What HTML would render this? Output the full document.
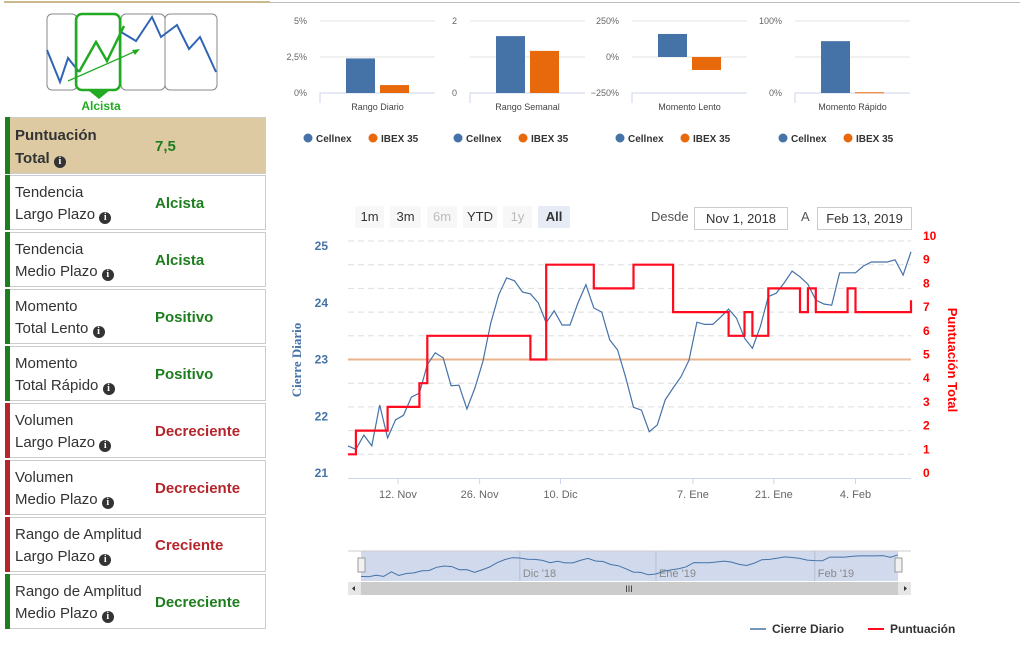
<!DOCTYPE html>
<html><head><meta charset="utf-8">
<style>
body{margin:0;width:1029px;height:652px;background:#fff;font-family:"Liberation Sans",sans-serif;position:relative;overflow:hidden}
.row{position:absolute;left:5px;width:261px;height:55px;border:1px solid #ccc;border-left:none;box-sizing:border-box;background:#fff}
.row .bar{position:absolute;left:0;top:-1px;bottom:-1px;width:5px}
.row .lbl{position:absolute;left:10px;top:6px;font-size:15px;line-height:22px;color:#333}
.row .val{position:absolute;left:150px;top:0;line-height:55px;font-size:15px;font-weight:bold}
.info{display:inline-block;width:12px;height:12px;border-radius:50%;background:#333;color:#fff;font-size:10px;line-height:12px;text-align:center;font-weight:bold;font-family:"Liberation Serif",serif;vertical-align:-1px}
.btn{position:absolute;top:206px;height:22px;line-height:22px;text-align:center;font-size:13px;background:#f7f7f7;color:#333;border-radius:2px}
.inp{position:absolute;top:207px;height:21px;line-height:21px;border:1px solid #ccc;font-size:13px;text-align:center;color:#333}
</style></head><body>
<div style="position:absolute;left:12px;top:2px;width:1008px;height:1px;background:#bbb"></div>
<div style="position:absolute;left:4px;top:1px;width:266px;height:2px;background:#cbb88f"></div>

<svg style="position:absolute;left:0;top:0" width="280" height="115">
<rect x="47" y="14" width="30" height="76" rx="5" fill="none" stroke="#888" stroke-width="1"/>
<rect x="121" y="14" width="44" height="76" rx="5" fill="none" stroke="#888"/>
<rect x="165" y="14" width="52" height="76" rx="5" fill="none" stroke="#888"/>
<polyline points="47,50 60,82 68,58 79,72" fill="none" stroke="#2f65b3" stroke-width="2"/>
<polyline points="121,32 136,41 152,17 161,37 177,25 189,49 200,37 216,72" fill="none" stroke="#2f65b3" stroke-width="2"/>
<rect x="76" y="14" width="44" height="76" rx="6" fill="none" stroke="#22aa22" stroke-width="2.5"/>
<polyline points="79,72 96,42 107,61 124,26" fill="none" stroke="#22aa22" stroke-width="2.5"/>
<line x1="68" y1="81" x2="136" y2="51" stroke="#22aa22" stroke-width="1.3"/>
<polygon points="140,49 132,50 135,55" fill="#22aa22"/>
<polygon points="88,90 110,90 99,99" fill="#22aa22"/>
<text x="101" y="110" text-anchor="middle" font-size="12" font-weight="bold" fill="#22aa22" font-family="Liberation Sans">Alcista</text>
</svg>

<div class="row" style="top:117px;height:57px;background:#ddcaa3"><div class="bar" style="background:#1e7e1e"></div><div class="lbl" style="font-weight:bold;top:6px;line-height:23px">Puntuación<br>Total <span class="info">i</span></div><div class="val" style="color:#1e7e1e;line-height:57px">7,5</div></div>
<div class="row" style="top:175px"><div class="bar" style="background:#1e7e1e"></div><div class="lbl">Tendencia<br>Largo Plazo <span class="info">i</span></div><div class="val" style="color:#1e7e1e">Alcista</div></div>
<div class="row" style="top:232px"><div class="bar" style="background:#1e7e1e"></div><div class="lbl">Tendencia<br>Medio Plazo <span class="info">i</span></div><div class="val" style="color:#1e7e1e">Alcista</div></div>
<div class="row" style="top:289px"><div class="bar" style="background:#1e7e1e"></div><div class="lbl">Momento<br>Total Lento <span class="info">i</span></div><div class="val" style="color:#1e7e1e">Positivo</div></div>
<div class="row" style="top:346px"><div class="bar" style="background:#1e7e1e"></div><div class="lbl">Momento<br>Total Rápido <span class="info">i</span></div><div class="val" style="color:#1e7e1e">Positivo</div></div>
<div class="row" style="top:403px"><div class="bar" style="background:#b5252c"></div><div class="lbl">Volumen<br>Largo Plazo <span class="info">i</span></div><div class="val" style="color:#b5252c">Decreciente</div></div>
<div class="row" style="top:460px"><div class="bar" style="background:#b5252c"></div><div class="lbl">Volumen<br>Medio Plazo <span class="info">i</span></div><div class="val" style="color:#b5252c">Decreciente</div></div>
<div class="row" style="top:517px"><div class="bar" style="background:#b5252c"></div><div class="lbl">Rango de Amplitud<br>Largo Plazo <span class="info">i</span></div><div class="val" style="color:#b5252c">Creciente</div></div>
<div class="row" style="top:574px"><div class="bar" style="background:#1e7e1e"></div><div class="lbl">Rango de Amplitud<br>Medio Plazo <span class="info">i</span></div><div class="val" style="color:#1e7e1e">Decreciente</div></div>

<div class="btn" style="left:355px;width:29px">1m</div>
<div class="btn" style="left:390px;width:31px">3m</div>
<div class="btn" style="left:427px;width:30px;color:#bbb">6m</div>
<div class="btn" style="left:463px;width:34px">YTD</div>
<div class="btn" style="left:503px;width:29px;color:#bbb">1y</div>
<div class="btn" style="left:538px;width:32px;background:#e6ebf5;font-weight:bold">All</div>
<div style="position:absolute;left:651px;top:209px;font-size:13px;color:#555">Desde</div>
<div class="inp" style="left:694px;width:92px">Nov 1, 2018</div>
<div style="position:absolute;left:801px;top:209px;font-size:13px;color:#555">A</div>
<div class="inp" style="left:817px;width:93px">Feb 13, 2019</div>

<svg id="mini" style="position:absolute;left:0;top:0" width="1029" height="150"></svg>
<svg id="main" style="position:absolute;left:0;top:0" width="1029" height="652"></svg>

<script>
const NS="http://www.w3.org/2000/svg";
function mk(svg,tag,attrs,txt){const e=document.createElementNS(NS,tag);for(const k in attrs)e.setAttribute(k,attrs[k]);if(txt!=null)e.textContent=txt;svg.appendChild(e);return e;}

// ---------- mini bar charts ----------
const miniTitles=["Rango Diario","Rango Semanal","Momento Lento","Momento Rápido"];
const miniCellnex=[2.4,1.58,160,72];
const miniIbex=[0.55,1.17,-90,1];
const miniMin=[0,0,-250,0];
const miniMax=[5,2,250,100];
const miniTicks=[["5%","2,5%","0%"],["2","","0"],["250%","0%","−250%"],["100%","","0%"]];
const mini=document.getElementById('mini');
const panelX=[320,470,632,795];
for(let i=0;i<4;i++){
  const x0=panelX[i],w=115,yT=21,yB=93;
  const ys=v=>yB-(v-miniMin[i])/(miniMax[i]-miniMin[i])*(yB-yT);
  [yT,(yT+yB)/2,yB].forEach((y,j)=>{
    if(j<2||miniMin[i]<0){let l=mk(mini,'line',{x1:x0,x2:x0+w,y1:y,y2:y,stroke:'#e3e3e3'});}
    if(miniTicks[i][j]){let t=mk(mini,'text',{x:x0-13,y:y+3,'text-anchor':'end','font-size':9,fill:'#666'},miniTicks[i][j]);}
  });
  let ax=mk(mini,'path',{d:`M${x0} ${yB+10}V${miniMin[i]<0?yB:yB}H${x0+w}`,stroke:'#ccd6eb',fill:'none'});
  
  const z=ys(0);
  const b1=ys(miniCellnex[i]),b2=ys(miniIbex[i]);
  let r1=mk(mini,'rect',{x:x0+26,width:29,y:Math.min(z,b1),height:Math.max(1,Math.abs(z-b1)),fill:'#4572a7'});
  
  let r2=mk(mini,'rect',{x:x0+60,width:29,y:Math.min(z,b2),height:Math.max(1,Math.abs(z-b2)),fill:'#e8690b'});
  
  let ct=mk(mini,'text',{x:x0+w/2,y:110,'text-anchor':'middle','font-size':9,fill:'#444'},miniTitles[i]);
  
  const lx=x0-12;
  let c1=mk(mini,'circle',{cx:lx,cy:138,r:4.5,fill:'#4572a7'});
  let t1=mk(mini,'text',{x:lx+8,y:142,'font-size':10,'font-weight':'bold',fill:'#333'},'Cellnex');
  let c2=mk(mini,'circle',{cx:lx+65,cy:138,r:4.5,fill:'#e8690b'});
  let t2=mk(mini,'text',{x:lx+73,y:142,'font-size':10,'font-weight':'bold',fill:'#333'},'IBEX 35');
}

// ---------- main chart ----------
const closes=[21.46,21.40,21.65,21.46,22.18,21.60,21.92,22.0,22.32,22.39,22.89,23.10,23.01,22.52,22.53,22.11,22.48,22.94,23.62,24.12,24.42,24.37,24.17,24.14,23.98,23.63,23.84,23.59,23.59,23.98,24.30,23.89,23.82,23.33,23.15,22.68,22.14,22.09,21.71,21.83,22.27,22.48,22.68,22.97,23.64,23.6,23.6,23.73,23.87,23.71,23.36,23.18,23.56,24.09,24.15,24.33,24.54,24.44,24.31,24.03,23.96,23.94,24.51,24.51,24.51,24.63,24.70,24.70,24.70,24.74,24.47,24.88];
const scores=[1,2,2,2,2,3,3,3,3,4,6,6,6,6,6,6,6,6,6,6,6,6,6,5,5,9,9,9,9,9,9,8,8,8,8,8,9,9,9,9,9,7,7,7,7,7,7,7,6,6,7,6,6,8,8,8,8,7,8,7,7,7,7,8,7,7,7,7,7,7,7,7.5];
const leftTicks=[21,22,23,24,25];
const rightTicks=[0,1,2,3,4,5,6,7,8,9,10];
const xLabels=["12. Nov","26. Nov","10. Dic","7. Ene","21. Ene","4. Feb"];
const xLabelIdx=[6.3,16.6,26.8,43.5,53.7,64.0];
const navLabels=["Dic '18","Ene '19","Feb '19"];
const navLabelIdx=[21,39,60];
const thresholdScore=5;

const svg=document.getElementById('main');
const X0=348,X1=911;
const xs=i=>X0+(X1-X0)*i/(closes.length-1);
const yL=v=>472-(v-21)*56.75;
const yR=v=>478-v*23.7;

rightTicks.forEach(v=>{
  if(v>0){let g=mk(svg,'line',{x1:X0,x2:X1,y1:yR(v),y2:yR(v),stroke:'#dedede','stroke-dasharray':'6,4'});}
  let t=mk(svg,'text',{x:923,y:yR(v)-1,'font-size':12,'font-weight':'bold',fill:'#ff0000'},String(v));
  
});
leftTicks.forEach(v=>{
  let t=mk(svg,'text',{x:328,y:yL(v)+5,'text-anchor':'end','font-size':12,'font-weight':'bold',fill:'#4572a7'},String(v));
  
});
let axl=mk(svg,'line',{x1:X0,x2:X1,y1:478.5,y2:478.5,stroke:'#ccd6eb'});
xLabels.forEach((s,i)=>{
  const x=xs(xLabelIdx[i]);
  let tk=mk(svg,'line',{x1:x,x2:x,y1:479,y2:484,stroke:'#ccd6eb'});
  let t=mk(svg,'text',{x:x,y:498,'text-anchor':'middle','font-size':11,fill:'#666'},s);
  
});
let th=mk(svg,'line',{x1:X0,x2:X1,y1:yR(thresholdScore),y2:yR(thresholdScore),stroke:'#e9b48c','stroke-width':2});


let pd='';closes.forEach((v,i)=>pd+=(i?'L':'M')+xs(i).toFixed(1)+' '+yL(v).toFixed(1));
let cl=mk(svg,'path',{d:pd,fill:'none',stroke:'#4572a7','stroke-width':1.2});


let sd='M'+xs(0)+' '+yR(scores[0]);
for(let i=1;i<scores.length;i++){sd+='H'+xs(i).toFixed(1)+'V'+yR(scores[i]).toFixed(1);}
let sl=mk(svg,'path',{d:sd,fill:'none',stroke:'#ff0a1e','stroke-width':2.2});


let lt=mk(svg,'text',{transform:'translate(301,360) rotate(-90)','text-anchor':'middle','font-size':13,'font-weight':'bold',fill:'#4572a7','font-family':'Liberation Serif'},'Cierre Diario');

let rt=mk(svg,'text',{transform:'translate(948,360) rotate(90)','text-anchor':'middle','font-size':13,'font-weight':'bold',fill:'#ff0000'},'Puntuación Total');


// navigator
const NY0=551,NY1=581;
let nbg=mk(svg,'rect',{x:361,y:NY0,width:537,height:NY1-NY0,fill:'#ccd6eb',opacity:0.9});

let nout=mk(svg,'path',{d:`M348 ${NY0}H911`,stroke:'#ccc'});
const nx=i=>361+537*i/(closes.length-1);
const ny=v=>NY1-3-(v-21.2)/(25-21.2)*(NY1-NY0-6);
navLabelIdx.forEach((k,i)=>{
  let g=mk(svg,'line',{x1:nx(k),x2:nx(k),y1:NY0,y2:NY1,stroke:'#b3bfd9'});
  let t=mk(svg,'text',{x:nx(k)+3,y:577,'font-size':11,fill:'#888'},navLabels[i]);
});
let np='';closes.forEach((v,i)=>np+=(i?'L':'M')+nx(i).toFixed(1)+' '+ny(v).toFixed(1));
let nl=mk(svg,'path',{d:np,fill:'none',stroke:'#4572a7','stroke-width':1});
[358,895].forEach(x=>{let h=mk(svg,'rect',{x:x,y:558,width:7,height:14,fill:'#f2f2f2',stroke:'#999'});});
let sb=mk(svg,'rect',{x:348,y:582,width:563,height:13,fill:'#e6e6e6'});
let st=mk(svg,'rect',{x:361,y:582,width:537,height:13,fill:'#cccccc'});
let sg=mk(svg,'text',{x:629,y:592,'text-anchor':'middle','font-size':9,fill:'#333'},'III');
let sa1=mk(svg,'polygon',{points:'352,588.5 355,586 355,591',fill:'#333'});
let sa2=mk(svg,'polygon',{points:'907,588.5 904,586 904,591',fill:'#333'});

// legend
let l1=mk(svg,'line',{x1:750,x2:766,y1:629,y2:629,stroke:'#4572a7','stroke-width':1.5});
let l1t=mk(svg,'text',{x:772,y:633,'font-size':12,'font-weight':'bold',fill:'#333'},'Cierre Diario');
let l2=mk(svg,'line',{x1:868,x2:884,y1:629,y2:629,stroke:'#ff0a1e','stroke-width':2});
let l2t=mk(svg,'text',{x:890,y:633,'font-size':12,'font-weight':'bold',fill:'#333'},'Puntuación');
</script>
</body></html>
